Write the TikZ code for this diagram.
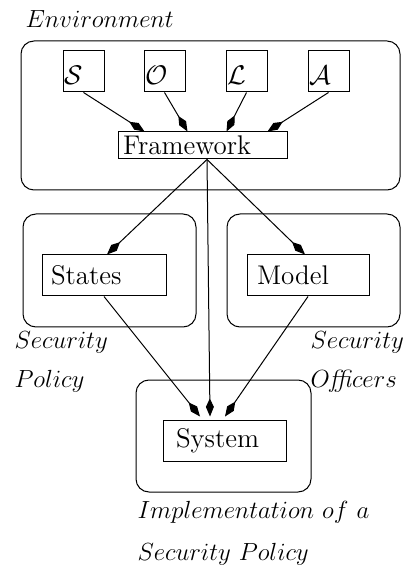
\RequirePackage{fix-cm}
\documentclass[tikz,border=0pt]{standalone}
\usetikzlibrary{arrows.meta,calc}
\begin{document}
\begin{tikzpicture}[x=0.5pt,y=-0.5pt,
  line width=0.5pt,
  font=\fontsize{13.5}{16}\selectfont,
  region/.style={draw,rounded corners=6.5pt,inner sep=0pt},
  item/.style={draw,rectangle,inner ysep=0pt,align=left},
  letterbox/.style={item,minimum height=20.5pt,inner xsep=0.5pt,text width=19.5pt,
    text height=13.5pt,text depth=0pt},
  caption/.style={anchor=base west,inner sep=0pt,font=\fontsize{12.4}{15}\selectfont},
  arr/.style={-{Kite[length=9pt,width=4pt,inset=4.2pt]}}]
\useasboundingbox (0,0) rectangle (402,565);

% rounded regions
\node[region,minimum width=189.5pt,minimum height=74.5pt] (env) at (210.5,115.5) {};
\node[region,minimum width=86.5pt,minimum height=56.5pt] (polreg) at (109.5,270.5) {};
\node[region,minimum width=86.5pt,minimum height=56.5pt] (offreg) at (313.5,270.5) {};
\node[region,minimum width=87.5pt,minimum height=56pt] (impreg) at (223.5,436) {};

% components
\node[letterbox] (S) at (83.5,71.5) {$\mathcal{S}$};
\node[letterbox] (O) at (164.5,71.5) {$\mathcal{O}$};
\node[letterbox] (L) at (246.5,71.5) {$\mathcal{L}$};
\node[letterbox] (A) at (328.5,71.5) {$\mathcal{A}$};

\node[item,minimum height=13.5pt,inner xsep=2.5pt,text width=79.5pt] (F) at (202.5,145.5) {Framework};
\node[item,minimum height=20.5pt,inner xsep=4.5pt,text width=53pt] (St) at (104,275.5) {States};
\node[item,minimum height=20.5pt,inner xsep=5pt,text width=51pt] (Mo) at (308,275.5) {Model};
\node[item,minimum height=20.5pt,inner xsep=6.5pt,text width=48.5pt] (Sy) at (224.5,440.5) {System};

% captions
\node[caption] (envlab) at (25,28) {$Environment$};
\node[caption] (polA) at (14,349) {$Security$};
\node[caption] (polB) at (14,387) {$Policy$};
\node[caption] (offA) at (310,349) {$Security$};
\node[caption] (offB) at (310,387) {$O$\textit{ffi}$cers$};
\node[caption] (impA) at (137,518) {$Implementation\ of\ a$};
\node[caption] (impB) at (137,560) {$Security\ Policy$};

% connectors
\coordinate (fb) at ($(F.south)+(4.5,0)$);
\draw[arr] (S.south) -- ($(F.north west)+(27,0)$);
\draw[arr] (O.south) -- ($(F.north west)+(70,0)$);
\draw[arr] (L.south) -- ($(F.north west)+(109,0)$);
\draw[arr] (A.south) -- ($(F.north west)+(150,0)$);
\draw[arr] (fb) -- ($(St.north)+(3,0)$);
\draw[arr] (fb) -- ($(Mo.north)+(-3,0)$);
\draw[arr] (fb) -- ($(Sy.north)+(-14.5,-3)$);
\draw[arr] (St.south) -- ($(Sy.north)+(-24.5,-3)$);
\draw[arr] (Mo.south) -- ($(Sy.north)+(0.5,-3)$);
\end{tikzpicture}
\end{document}
